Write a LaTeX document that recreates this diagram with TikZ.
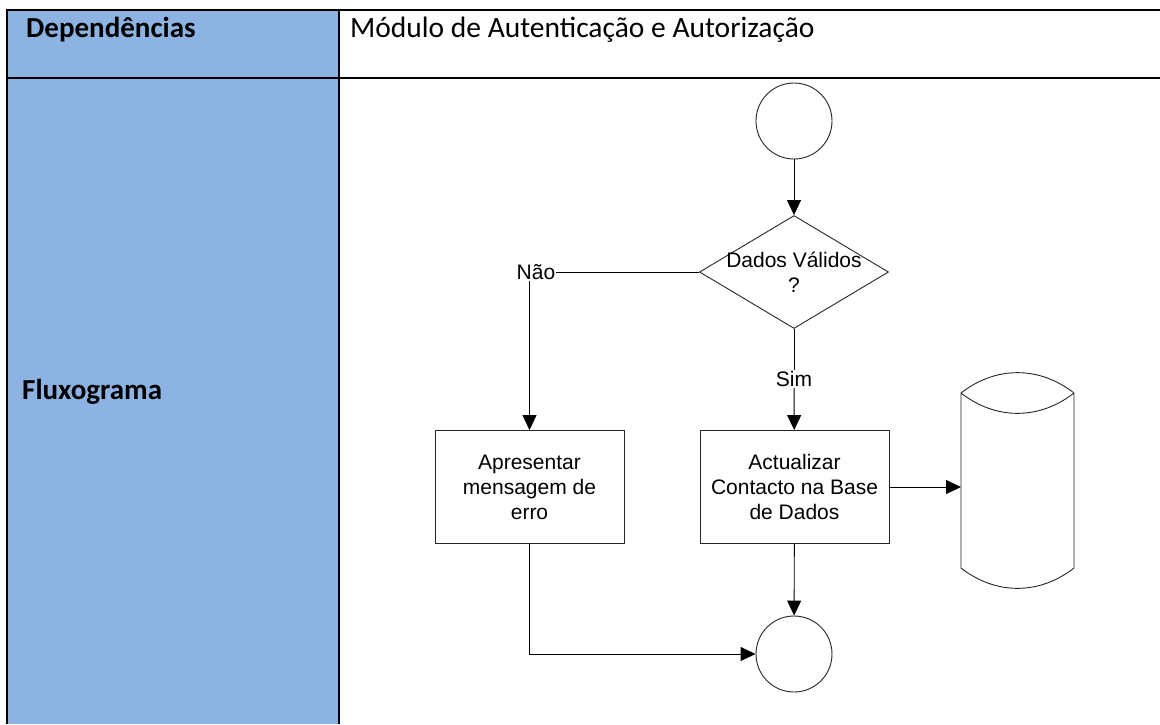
\documentclass[tikz,border=0pt]{standalone}
\usepackage{fontspec}
\setmainfont{Carlito}
\newfontfamily\flowfont{Liberation Sans}
\usetikzlibrary{arrows.meta,shapes.geometric}

\begin{document}
\begin{tikzpicture}[x=1pt, y=-1pt]
		\tikzstyle{cell} = [inner sep=0pt, font=\fontsize{29.5}{34}\selectfont]
		\tikzstyle{head} = [cell, font=\fontsize{29}{34}\selectfont\bfseries]
		\tikzstyle{txt} = [inner sep=1pt, font=\flowfont\fontsize{21}{25}\selectfont, align=center]
		\tikzstyle{flow} = [txt, draw=black!85, line width=0.9pt, inner sep=0pt]
		\tikzstyle{proc} = [flow, rectangle, minimum width=189pt, minimum height=113pt]
		\tikzstyle{term} = [flow, circle, minimum size=76pt]
		\tikzstyle{dec} = [flow, diamond, minimum width=189pt, minimum height=113pt]
		\tikzstyle{arr} = [-{Triangle[length=15pt,width=14pt]}, line width=0.9pt]
		\useasboundingbox (0,0) rectangle (1160,724);
		% tabela
		\fill[fill={rgb,255:red,141;green,179;blue,226}] (7,10) rectangle (339,724);
		\draw[line width=2.5pt] (1160,10) -- (7,10) -- (7,724) (339,10) -- (339,724) (7,78) -- (1160,78);
		\node[head, anchor=base west] (dep) at (26,37) {Dependências};
		\node[cell, anchor=base west] (mod) at (350,37) {Módulo de Autenticação e Autorização};
		\node[head, anchor=base west] (flux) at (22,399) {Fluxograma};
		% fluxograma
		\node[term] (ini) at (794,121) {};
		\node[dec, label={[txt]center:Dados Válidos\\?}] (val) at (794,272) {};
		\node[txt] (nao) at (536,272) {Não};
		\node[txt] (sim) at (794,379) {Sim};
		\node[proc] (erro) at (529.5,487) {Apresentar\\mensagem de\\erro};
		\node[proc] (act) at (794.5,487) {Actualizar\\Contacto na Base\\de Dados};
		\node[term] (fim) at (794,654) {};
		% base de dados
		\draw[draw=black!85, line width=0.9pt] (961,393) to[bend left=38] (1074,393)
			-- (1074,568) to[bend left=38] (961,568) -- cycle
			(961,393) to[bend right=38] (1074,393);
		\coordinate (bd) at (961,487);
		\foreach \from/\to in {ini/val, sim/act, act/fim}
		\draw[arr] (\from) -- (\to);
		\draw[line width=0.9pt] (val.south) -- (sim.north) (val.west) -- (nao.east);
		\draw[arr] (nao.south -| erro.north) -- (erro.north);
		\draw[arr] (act.east) -- (bd);
		\draw[arr] (erro.south) |- (fim.west);
\end{tikzpicture}
\end{document}
